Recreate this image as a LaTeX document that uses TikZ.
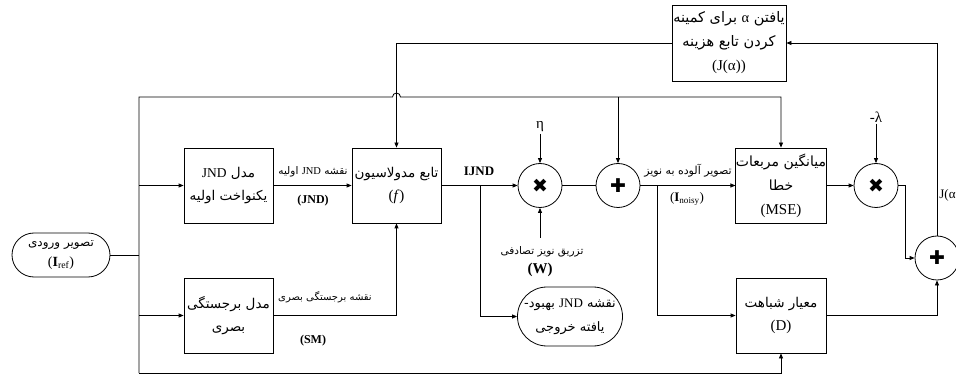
\documentclass[tikz,border=0pt]{standalone}
\usepackage{fontspec}
\setmainfont{Liberation Serif}
\newfontfamily\arfont[Script=Arabic]{DejaVu Sans}
\newfontfamily\symfont{DejaVu Sans}
\TeXXeTstate=1
\usetikzlibrary{shapes.misc,arrows.meta,calc}
\newcommand\myfa[1]{{\arfont\beginR #1\endR}}
\newcommand\mylt[1]{\beginL{\rmfamily #1}\endL}
\tikzset{
  blk/.style={draw, minimum width=89pt, minimum height=75pt, inner sep=0pt, align=center, font=\fontsize{13.5}{23}\selectfont},
  sumc/.style={draw, circle, minimum size=44pt, inner sep=0pt, font=\symfont\fontsize{19}{19}\selectfont},
  term/.style={draw, rounded rectangle, inner sep=0pt, align=center, font=\fontsize{12}{20}\selectfont},
  arr/.style={-{Triangle[length=5pt,width=4pt]}},
  lbl/.style={inner sep=1pt, font=\fontsize{10}{12}\selectfont},
  blbl/.style={inner sep=1pt, font=\bfseries\fontsize{12}{14}\selectfont},
}
\begin{document}
\begin{tikzpicture}[x=1pt,y=-1pt,line width=0.8pt]
\useasboundingbox (0,0) rectangle (956,374);
% blocks
\node[term, minimum width=98pt, minimum height=44pt] (in) at (61,255) {\myfa{تصویر ورودی}\\{\fontsize{14}{20}\selectfont(\textbf{I}\textsubscript{ref})}};
\node[blk] (jnd) at (228.5,185.5) {\myfa{مدل \mylt{JND}}\\\myfa{یکنواخت اولیه}};
\node[blk] (sm) at (228.5,315.5) {\myfa{مدل برجستگی}\\\myfa{بصری}};
\node[blk] (mod) at (396.5,185.5) {\myfa{تابع مدولاسیون}\\{\fontsize{15}{23}\selectfont(\textit{f})}};
\node[sumc] (mul1) at (540,185.5) {✖};
\node[sumc] (add1) at (618,185.5) {✚};
\node[blk, minimum width=90pt, font=\fontsize{14}{24}\selectfont] (mse) at (781,185.5) {\myfa{میانگین مربعات}\\\myfa{خطا}\\{\fontsize{15}{24}\selectfont (MSE)}};
\node[blk, minimum width=90pt] (d) at (781,315.5) {\myfa{معیار شباهت}\\{\fontsize{15}{24}\selectfont (D)}};
\node[sumc] (mul2) at (876,185.5) {✖};
\node[sumc] (add2) at (937,258) {✚};
\node[blk, minimum width=114pt, minimum height=76pt, font=\fontsize{14.5}{24}\selectfont] (alpha) at (729,43) {\myfa{یافتن \mylt{α} برای کمینه}\\\myfa{کردن تابع هزینه}\\{\fontsize{15}{23}\selectfont(J(α))}};
\node[term, minimum width=105pt, minimum height=59pt, font=\fontsize{13}{24}\selectfont] (out) at (570,316.5) {\myfa{نقشه \mylt{JND} بهبود-}\\\myfa{یافته خروجی}};
% labels
\node[blbl, font=\bfseries\fontsize{13}{14}\selectfont] (ijnd) at (479,171) {IJND};
\node[lbl, font=\fontsize{10.5}{12}\selectfont] (lj) at (313,172) {\myfa{نقشه \mylt{JND} اولیه}};
\node[blbl] (lj2) at (313,201) {(JND)};
\node[lbl, font=\fontsize{10}{12}\selectfont] (ls) at (325,297) {\myfa{نقشه برجستگی بصری}};
\node[blbl] (ls2) at (313,341) {(SM)};
\node[lbl, font=\fontsize{15}{15}\selectfont] (eta) at (540,127) {η};
\node[lbl, font=\fontsize{10.5}{12}\selectfont] (wl) at (542,252) {\myfa{تزریق نویز تصادفی}};
\node[blbl, font=\bfseries\fontsize{15}{16}\selectfont] (wl2) at (540,270) {(W)};
\node[lbl, font=\fontsize{11}{14}\selectfont] (ln) at (688,171) {\myfa{تصویر آلوده به نویز}};
\node[lbl, font=\fontsize{13}{14}\selectfont] (ln2) at (687,199) {(\textbf{I}\textsubscript{noisy})};
\node[lbl, font=\fontsize{15}{15}\selectfont] (lam) at (876,117) {-λ};
\node[lbl, anchor=west, font=\fontsize{13}{14}\selectfont] (jl) at (938,195) {J(α};
% connectors
\coordinate (bt) at (139,97);
\coordinate (bb) at (139,373);
\coordinate (hop) at (mod.north |- bt);
\coordinate (ij) at (480,185.5);
\coordinate (nz) at (657,185.5);
\coordinate (k) at (905,185.5);
\coordinate (wt) at (540,238);
\draw (in.east) -- (in.east -| bt);
\draw[arr] (bb) -- (bt) -- ([xshift=-4pt]hop) arc[start angle=180,end angle=0,radius=4pt] -| (mse.north);
\draw[arr] (bt -| add1.north) -- (add1.north);
\draw[arr] (bb) -| (d.south);
\draw[arr] (jnd.west -| bt) -- (jnd.west);
\draw[arr] (sm.west -| bt) -- (sm.west);
\draw[arr] (jnd) -- (mod);
\draw[arr] (sm.east) -| (mod.south);
\draw[arr] (mod) -- (mul1);
\draw[arr] (ij) |- (out.west);
\draw[arr] (eta) -- (mul1);
\draw[arr] (wt) -- (mul1.south);
\draw (mul1) -- (add1);
\draw[arr] (add1) -- (mse);
\draw[arr] (nz) |- (d.west);
\draw[arr] (mse) -- (mul2);
\draw[arr] (lam) -- (mul2);
\draw[arr] (mul2.east) -- (k) |- (add2.west);
\draw[arr] (d.east) -| (add2.south);
\draw[arr] (add2.north) |- (alpha.east);
\draw[arr] (alpha.west) -| (mod.north);
\end{tikzpicture}
\end{document}
